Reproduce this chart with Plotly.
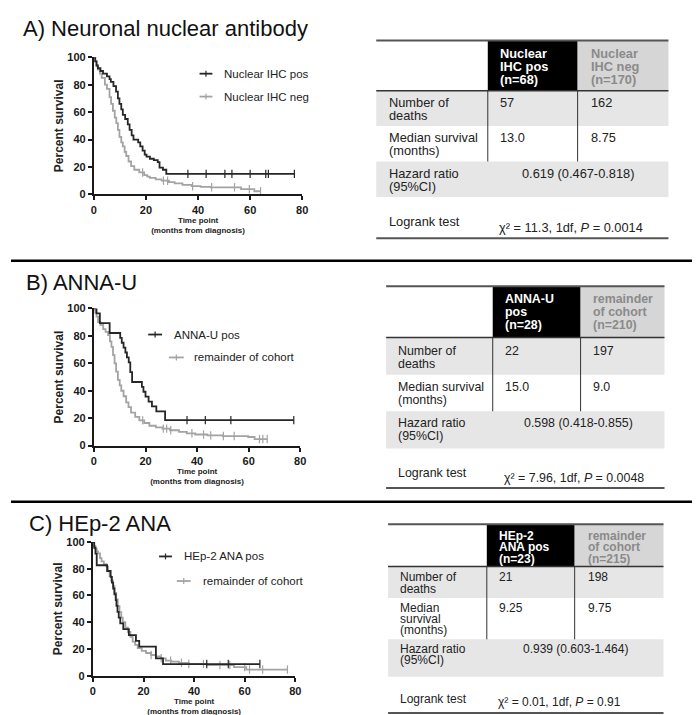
import plotly.graph_objects as go

W, H = 700, 715
def X(px): return px / W
def Y(py): return 1 - py / H

# ------------------------------------------------------------------ DATA
# Panel A : neuronal nuclear antibody (Kaplan-Meier steps, % survival)
A_pos_time = [0, 0.5, 1, 1.5, 2.5, 3.5, 5, 6, 6.5, 7.5, 8.5, 9.2, 9.8, 10.5, 11.1, 12, 13, 13.7,
              14.5, 15.2, 17, 17.8, 18.7, 19.5, 20.2, 21.5, 23, 24.5, 25.2, 26.5, 27.8, 77]
A_pos_surv = [100, 97, 94, 92, 90, 88, 86, 84, 82, 79, 75, 70, 66, 62, 58, 55, 51, 47,
              43, 40, 38, 35, 32, 29, 27.5, 26, 25, 23.5, 19.5, 18, 15, 15]
A_pos_censor = [36.1, 43.1, 50.3, 53, 60, 66, 67, 77]
A_neg_time = [0, 0.5, 1, 1.5, 2.3, 3, 4.2, 5, 6, 6.6, 7.3, 8, 8.6, 9.2, 9.8, 10.5, 11.1, 11.8, 12.4,
              13.3, 14.3, 15.5, 17.4, 19.3, 20.5, 21.5, 23.7, 26, 28.8, 31, 34, 37.6, 41, 45, 56.5, 61.6, 64]
A_neg_surv = [100, 97, 94, 91, 88, 85, 80, 77, 71, 66, 61, 56, 52, 47, 42, 38, 35, 31, 28,
              24, 20.6, 18, 16, 14, 13, 12, 11, 10, 9, 8, 7, 6, 5.5, 5.2, 3.8, 2.3, 2.3]
A_neg_censor = [18.7, 26.7, 28.3, 37.9, 45.2, 54, 59.7, 64]

# Panel B : ANNA-U
B_pos_time = [0, 1, 2.3, 6.1, 10.2, 10.8, 11.5, 12.2, 12.8, 13.5, 14.1, 14.8, 18.6, 19.2, 20.0,
              21.2, 22.5, 24.2, 27.6, 77.5]
B_pos_surv = [100, 96.4, 89.3, 82.1, 78.6, 75, 71.4, 67.9, 64.3, 60.7, 53.6, 46.4, 42.9, 39.3, 35.7,
              32.1, 28.6, 25, 18.6, 18.6]
B_pos_censor = [36.1, 43.2, 53.1, 77.5]
B_rest_time = [0, 0.5, 1, 1.6, 2.5, 3.6, 4.5, 5.5, 6.2, 6.8, 7.4, 8, 8.6, 9.3, 10, 10.6, 11.5, 12.5,
               13.4, 14.4, 16, 17.6, 19.5, 21.5, 24, 26.6, 29.5, 33, 36, 39.3, 44, 50, 59.8, 62.3, 67.2]
B_rest_surv = [100, 97, 94, 90, 88, 85, 83, 80.5, 76, 72, 66, 60, 54, 48, 44, 40, 36, 31.5,
               28, 24, 21, 18.4, 16.5, 14.5, 13.3, 12.4, 11.2, 10, 9, 8.1, 7.5, 7, 6.3, 4.8, 4.8]
B_rest_censor = [18.9, 26.9, 28.2, 29.8, 38, 42.5, 45.3, 50.2, 54.4, 64.2, 65.5, 67.2]

# Panel C : HEp-2 ANA
C_pos_time = [0, 0.5, 1, 1.5, 5.6, 7, 7.5, 8, 8.5, 9, 9.3, 9.7, 10.2, 10.8, 12, 14.2, 17, 18.3,
              24.9, 27.7, 66]
C_pos_surv = [100, 95.7, 91.3, 82.6, 78.3, 73.9, 69.6, 65.2, 60.9, 56.5, 52.2, 47.8, 43.5, 39.1,
              34.8, 30.4, 26.1, 21.7, 13, 8.7, 8.7]
C_pos_censor = [45, 53.5, 66]
C_rest_time = [0, 0.5, 1, 1.5, 2, 2.8, 3.4, 4.3, 5.3, 6, 6.6, 7.2, 7.9, 8.5, 9.2, 9.8, 10.5, 11.2,
               11.8, 12.8, 13.8, 14.8, 15.7, 16.7, 17.7, 19.3, 21, 23, 24.9, 26.8, 28.8, 31, 34,
               37.9, 45, 55.8, 60.6, 76.9]
C_rest_surv = [100, 97, 95, 93, 91.5, 88, 85.5, 83.5, 81.8, 78, 74.5, 71, 67, 62, 57, 52, 47.5,
               43.5, 40, 36, 32.8, 29, 25.5, 23, 20.6, 18.5, 17, 15.5, 14.5, 13, 11.3, 10.5, 9.6,
               8.8, 8, 6.4, 4.6, 4.6]
C_rest_censor = [23, 27, 30.7, 35, 37.9, 43.7, 50.2, 54.1, 60, 61.9, 67.1, 76.9]

x_ticks = [0, 20, 40, 60, 80]
y_ticks = [0, 20, 40, 60, 80, 100]
x_title = "Time point<br>(months from diagnosis)"
y_title = "Percent survival"

titles = ["A) Neuronal nuclear antibody", "B) ANNA-U", "C) HEp-2 ANA"]
series_names = [("Nuclear IHC pos", "Nuclear IHC neg"),
                ("ANNA-U pos", "remainder of cohort"),
                ("HEp-2 ANA pos", "remainder of cohort")]

# Tables
row_labels = ["Number of\ndeaths", "Median survival\n(months)", "Hazard ratio\n(95%CI)", "Logrank test"]
row_labels_C = ["Number of\ndeaths", "Median\nsurvival\n(months)", "Hazard ratio\n(95%CI)", "Logrank test"]
A_headers = ["Nuclear\nIHC pos\n(n=68)", "Nuclear\nIHC neg\n(n=170)"]
B_headers = ["ANNA-U\npos\n(n=28)", "remainder\nof cohort\n(n=210)"]
C_headers = ["HEp-2\nANA pos\n(n=23)", "remainder\nof cohort\n(n=215)"]
A_deaths, B_deaths, C_deaths = ["57", "162"], ["22", "197"], ["21", "198"]
A_median, B_median, C_median = ["13.0", "8.75"], ["15.0", "9.0"], ["9.25", "9.75"]
A_hr, B_hr, C_hr = "0.619 (0.467-0.818)", "0.598 (0.418-0.855)", "0.939 (0.603-1.464)"
A_chi, B_chi, C_chi = ("11.3", "0.0014"), ("7.96", "0.0048"), ("0.01", "0.91")

# ------------------------------------------------------------------ STYLE / GEOMETRY
DARK = "#262626"
GREY = "#a3a3a3"
FONT = "Liberation Sans"

panel_geo = [
    dict(ax=(84, 295, 44, 183.5), title=(10, 15),
         leg=[(191, 204, 214, 60.7), (191, 204, 214, 84)]),
    dict(ax=(84, 293, 299.5, 439), title=(13, 273),
         leg=[(139, 153, 163, 326), (160, 175, 183, 349.3)]),
    dict(ax=(83, 288, 537, 673), title=(16, 518),
         leg=[(150, 163, 173, 551.7), (168, 182, 192, 576.7)]),
]

table_geo = [
    dict(L=370, R=666, c1=483, c2=574, top=27, hb=78, r1=114, r2=150, r3=186, bot=228,
         tx=(381, 493, 586), hy=40, gap=13.3, ry=(90, 126, 162), lr=211, chi=217, hrx=574, fs=12.8),
    dict(L=380, R=662, c1=488, c2=577, top=277, hb=329, r1=367, r2=404, r3=442, bot=482,
         tx=(390, 498, 588), hy=290, gap=13.3, ry=(343, 379, 416), lr=467, chi=472, hrx=575, fs=12.4),
    dict(L=382, R=661, c1=482, c2=571, top=519, hb=562, r1=594, r2=636, r3=674, bot=711,
         tx=(392, 492, 582), hy=531, gap=11.5, ry=(573, 604, 646), lr=697, chi=700, hrx=572, fs=12),
]

curves = [
    ((A_pos_time, A_pos_surv, A_pos_censor), (A_neg_time, A_neg_surv, A_neg_censor)),
    ((B_pos_time, B_pos_surv, B_pos_censor), (B_rest_time, B_rest_surv, B_rest_censor)),
    ((C_pos_time, C_pos_surv, C_pos_censor), (C_rest_time, C_rest_surv, C_rest_censor)),
]
tables = [
    (row_labels, A_headers, A_deaths, A_median, A_hr, A_chi),
    (row_labels, B_headers, B_deaths, B_median, B_hr, B_chi),
    (row_labels_C, C_headers, C_deaths, C_median, C_hr, C_chi),
]


def surv_at(ts, ss, tc):
    v = ss[0]
    for t, s in zip(ts, ss):
        if t <= tc:
            v = s
    return v


fig = go.Figure()
annotations = []
shapes = []


def ann(text, px, py, size, color="#222", xanchor="left", yanchor="middle", bold=False, angle=0):
    annotations.append(dict(
        text=("<b>%s</b>" % text) if bold else text, x=X(px), y=Y(py), xref="paper", yref="paper",
        xanchor=xanchor, yanchor=yanchor, showarrow=False, textangle=angle,
        font=dict(family=FONT, size=size, color=color)))


def lines_ann(text, px, py, gap, size, color="#222", bold=False):
    for i, ln in enumerate(text.split("\n")):
        ann(ln, px, py + i * gap, size, color=color, bold=bold)


def hline(x0, x1, y, color, width):
    shapes.append(dict(type="line", xref="paper", yref="paper", x0=X(x0), x1=X(x1), y0=Y(y), y1=Y(y),
                       line=dict(color=color, width=width)))


def vline(x, y0, y1, color, width):
    shapes.append(dict(type="line", xref="paper", yref="paper", x0=X(x), x1=X(x), y0=Y(y0), y1=Y(y1),
                       line=dict(color=color, width=width)))


def rect(x0, x1, y0, y1, color):
    shapes.append(dict(type="rect", xref="paper", yref="paper", x0=X(x0), x1=X(x1), y0=Y(y1), y1=Y(y0),
                       fillcolor=color, line=dict(width=0), layer="below"))


layout_axes = {}
for i, (geo, (pos, neg), title, names) in enumerate(zip(panel_geo, curves, titles, series_names)):
    n = "" if i == 0 else str(i + 1)
    xa, ya = "x" + n, "y" + n
    for (t, s, c), col in ((neg, GREY), (pos, DARK)):
        fig.add_trace(go.Scatter(x=t, y=s, mode="lines", line=dict(shape="hv", color=col, width=1.8),
                                 xaxis=xa, yaxis=ya, cliponaxis=False, showlegend=False, hoverinfo="skip"))
        fig.add_trace(go.Scatter(x=c, y=[surv_at(t, s, tc) for tc in c], mode="markers",
                                 marker=dict(symbol="line-ns", size=6, color=col,
                                             line=dict(width=1.2, color=col)),
                                 xaxis=xa, yaxis=ya, cliponaxis=False, showlegend=False, hoverinfo="skip"))
    x0, x1, yt, yb = geo["ax"]
    common = dict(showline=True, linecolor="#1a1a1a", linewidth=2, ticks="outside", ticklen=4,
                  tickwidth=1.5, tickcolor="#1a1a1a", showgrid=False, zeroline=False, fixedrange=True,
                  tickfont=dict(family=FONT, size=11, color="#1a1a1a", weight="bold"))
    layout_axes["xaxis" + n] = dict(domain=[X(x0), X(x1)], range=[0, 80], tickvals=x_ticks,
                                    anchor=ya,
                                    title=dict(text=x_title, standoff=1,
                                               font=dict(family=FONT, size=8, color="#222", weight="bold")),
                                    **common)
    layout_axes["yaxis" + n] = dict(domain=[Y(yb), Y(yt)], range=[0, 100], tickvals=y_ticks,
                                    anchor=xa,
                                    title=dict(text=y_title, standoff=1,
                                               font=dict(family=FONT, size=12, color="#222", weight="bold")),
                                    **common)
    ann(title, geo["title"][0], geo["title"][1], 22, color="#111")
    for (lx0, lx1, tx, ly), col, name in zip(geo["leg"], (DARK, GREY), names):
        hline(lx0, lx1, ly, col, 1.8)
        vline((lx0 + lx1) / 2, ly - 3, ly + 3, col, 1.2)
        ann(name, tx, ly, 11.5, color="#222")

# separators between panels
hline(0, 700, 251, "#000", 2.5)
hline(0, 700, 496, "#000", 2.5)

# tables
for g, (labels, heads, deaths, median, hr, chi) in zip(table_geo, tables):
    fs = g["fs"]
    rect(g["c1"], g["c2"], g["top"], g["hb"], "#000000")
    rect(g["c2"], g["R"], g["top"], g["hb"], "#d6d6d6")
    rect(g["L"], g["R"], g["hb"], g["r1"], "#e6e6e6")
    rect(g["L"], g["R"], g["r2"], g["r3"], "#e6e6e6")
    hline(g["L"], g["R"], g["top"], "#555", 2)
    hline(g["L"], g["R"], g["hb"], "#333", 1.5)
    hline(g["L"], g["R"], g["bot"], "#555", 2)
    vline(g["c1"], g["hb"], g["r2"], "#333", 1)
    vline(g["c2"], g["hb"], g["r2"], "#333", 1)
    lx, c1x, c2x = g["tx"]
    lines_ann(heads[0], c1x, g["hy"], g["gap"], fs, color="#ffffff", bold=True)
    lines_ann(heads[1], c2x, g["hy"], g["gap"], fs, color="#8a8a8a", bold=True)
    lines_ann(labels[0], lx, g["ry"][0], g["gap"], fs)
    lines_ann(labels[1], lx, g["ry"][1], g["gap"], fs)
    lines_ann(labels[2], lx, g["ry"][2], g["gap"], fs)
    ann(labels[3], lx, g["lr"], fs)
    ann(deaths[0], c1x, g["ry"][0], fs)
    ann(deaths[1], c2x, g["ry"][0], fs)
    ann(median[0], c1x, g["ry"][1], fs)
    ann(median[1], c2x, g["ry"][1], fs)
    ann(hr, g["hrx"], g["ry"][2], fs, xanchor="center")
    ann("χ² = %s, 1df, <i>P</i> = %s" % chi, c1x - 1, g["chi"], fs)

fig.update_layout(width=W, height=H, margin=dict(l=0, r=0, t=0, b=0),
                  paper_bgcolor="white", plot_bgcolor="white",
                  annotations=annotations, shapes=shapes, **layout_axes)
fig.write_html("out.html")
